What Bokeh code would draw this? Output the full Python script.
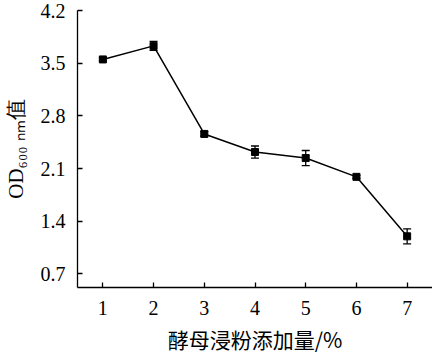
import numpy as np
from bokeh.plotting import figure
from bokeh.models import ColumnDataSource, Whisker, TeeHead, FixedTicker, Range1d
from bokeh.embed import file_html
from bokeh.resources import INLINE

# ---- data ----
x_vals = [1, 2, 3, 4, 5, 6, 7]
od_vals = [3.55, 3.73, 2.56, 2.32, 2.24, 1.99, 1.20]
err_vals = [0.02, 0.06, 0.03, 0.08, 0.10, 0.02, 0.10]
x_ticks = [1, 2, 3, 4, 5, 6, 7]
y_ticks = [0.7, 1.4, 2.1, 2.8, 3.5, 4.2]
x_title = "酵母浸粉添加量/%"
y_title = "OD\u2086\u2080\u2080 \u2099\u2098值"   # OD with subscript "600 nm", then 值

W, H = 432, 357
BL, BR, BT, BB = 77, 0, 10, 70
X0, X1 = 0.5, 7.5
Y0, Y1 = 0.52, 4.2

SERIF = "Liberation Serif"
CJK = "Noto Sans CJK SC"

p = figure(width=W, height=H, x_range=Range1d(X0, X1), y_range=Range1d(Y0, Y1),
           output_backend="svg", toolbar_location=None,
           min_border_left=BL, min_border_right=BR, min_border_top=BT, min_border_bottom=BB)
p.xgrid.visible = False
p.ygrid.visible = False
p.outline_line_color = None
p.background_fill_color = "white"
p.border_fill_color = "white"

for ax in (p.xaxis[0], p.yaxis[0]):
    ax.axis_line_color = "black"
    ax.axis_line_width = 1.3
    ax.major_tick_line_color = "black"
    ax.major_tick_line_width = 1.3
    ax.major_tick_in = 5
    ax.major_tick_out = 0
    ax.minor_tick_line_color = None
    ax.major_label_text_font = SERIF
    ax.major_label_text_font_size = "20px"
    ax.major_label_text_color = "black"
    ax.axis_label_text_font_style = "normal"
    ax.axis_label_text_color = "black"
p.xaxis[0].ticker = FixedTicker(ticks=x_ticks)
p.yaxis[0].ticker = FixedTicker(ticks=y_ticks)
p.xaxis[0].major_label_standoff = 13
p.yaxis[0].major_label_standoff = 12

p.xaxis[0].axis_label = x_title
p.xaxis[0].axis_label_text_font = CJK
p.xaxis[0].axis_label_text_font_size = "21px"
p.xaxis[0].axis_label_standoff = 6

p.yaxis[0].axis_label = y_title
p.yaxis[0].axis_label_text_font = SERIF
p.yaxis[0].axis_label_text_font_size = "21px"
p.yaxis[0].axis_label_standoff = 10

src = ColumnDataSource(dict(x=x_vals, y=od_vals,
                            lo=[v - e for v, e in zip(od_vals, err_vals)],
                            hi=[v + e for v, e in zip(od_vals, err_vals)]))

p.line("x", "y", source=src, line_color="black", line_width=1.5)
wh = Whisker(base="x", upper="hi", lower="lo", source=src,
             line_color="black", line_width=1.3,
             upper_head=TeeHead(size=8, line_color="black", line_width=1.3),
             lower_head=TeeHead(size=8, line_color="black", line_width=1.3))
p.add_layout(wh)
p.scatter("x", "y", source=src, marker="square", size=7, fill_color="black", line_color="black")

open("out.html", "w").write(file_html(p, INLINE))
